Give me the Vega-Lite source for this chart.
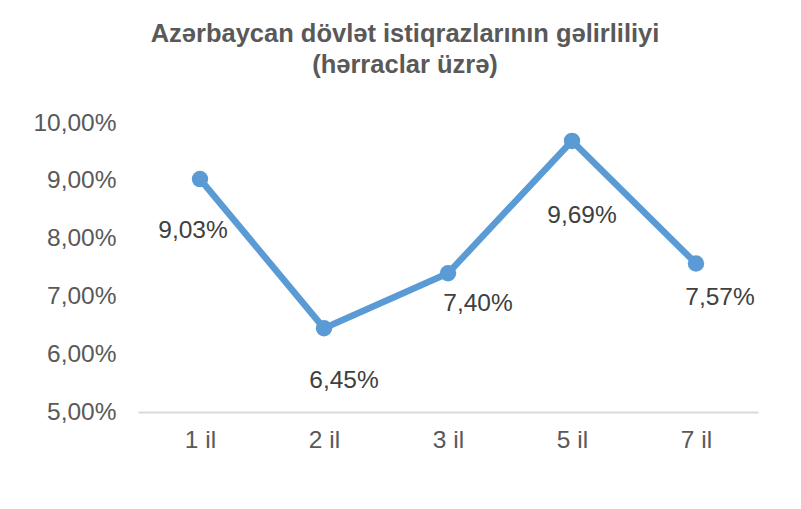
{
  "$schema": "https://vega.github.io/schema/vega-lite/v6.json",
  "width": 620,
  "height": 289,
  "autosize": {"type": "none"},
  "padding": {"left": 138, "top": 123, "right": 43, "bottom": 97},
  "background": "white",
  "config": {
    "view": {"stroke": null},
    "font": "Liberation Sans",
    "locale": {"number": {"decimal": ",", "thousands": ".", "grouping": [3], "currency": ["", " €"]}}
  },
  "title": {
    "text": ["Azərbaycan dövlət istiqrazlarının gəlirliliyi", "(hərraclar üzrə)"],
    "font": "Liberation Sans",
    "fontSize": 25.5,
    "fontWeight": "bold",
    "color": "#595959",
    "anchor": "middle",
    "frame": "group",
    "baseline": "bottom",
    "dx": -43,
    "offset": 7,
    "lineHeight": 31
  },
  "data": {
    "values": [
      {"term": "1 il", "yield": 0.0903},
      {"term": "2 il", "yield": 0.0645},
      {"term": "3 il", "yield": 0.0740},
      {"term": "5 il", "yield": 0.0969},
      {"term": "7 il", "yield": 0.0757}
    ]
  },
  "encoding": {
    "x": {
      "field": "term", "type": "nominal", "sort": null,
      "scale": {"paddingInner": 0, "paddingOuter": 0},
      "axis": {"title": null, "labelAngle": 0, "labelFontSize": 24.5, "labelColor": "#595959", "labelFont": "Liberation Sans", "ticks": false, "domainColor": "#d9d9d9", "domainWidth": 2, "labelPadding": 16, "grid": false}
    },
    "y": {
      "field": "yield", "type": "quantitative",
      "scale": {"domain": [0.05, 0.10], "nice": false, "zero": false},
      "axis": {"title": null, "values": [0.05, 0.06, 0.07, 0.08, 0.09, 0.10], "format": ".2%", "labelFontSize": 24.5, "labelColor": "#595959", "labelFont": "Liberation Sans", "ticks": false, "domain": false, "grid": false, "labelPadding": 22}
    }
  },
  "layer": [
    {"mark": {"type": "line", "color": "#5b9bd5", "strokeWidth": 6.5}},
    {"mark": {"type": "point", "filled": true, "color": "#5b9bd5", "size": 270, "opacity": 1}},
    {"transform": [{"filter": "datum.term == '1 il'"}], "mark": {"type": "text", "fontSize": 24.5, "color": "#404040", "dx": -7, "dy": 52, "baseline": "middle"}, "encoding": {"text": {"field": "yield", "format": ".2%"}}},
    {"transform": [{"filter": "datum.term == '2 il'"}], "mark": {"type": "text", "fontSize": 24.5, "color": "#404040", "dx": 20, "dy": 53, "baseline": "middle"}, "encoding": {"text": {"field": "yield", "format": ".2%"}}},
    {"transform": [{"filter": "datum.term == '3 il'"}], "mark": {"type": "text", "fontSize": 24.5, "color": "#404040", "dx": 30, "dy": 31, "baseline": "middle"}, "encoding": {"text": {"field": "yield", "format": ".2%"}}},
    {"transform": [{"filter": "datum.term == '5 il'"}], "mark": {"type": "text", "fontSize": 24.5, "color": "#404040", "dx": 10, "dy": 75, "baseline": "middle"}, "encoding": {"text": {"field": "yield", "format": ".2%"}}},
    {"transform": [{"filter": "datum.term == '7 il'"}], "mark": {"type": "text", "fontSize": 24.5, "color": "#404040", "dx": 24, "dy": 35, "baseline": "middle"}, "encoding": {"text": {"field": "yield", "format": ".2%"}}}
  ]
}
